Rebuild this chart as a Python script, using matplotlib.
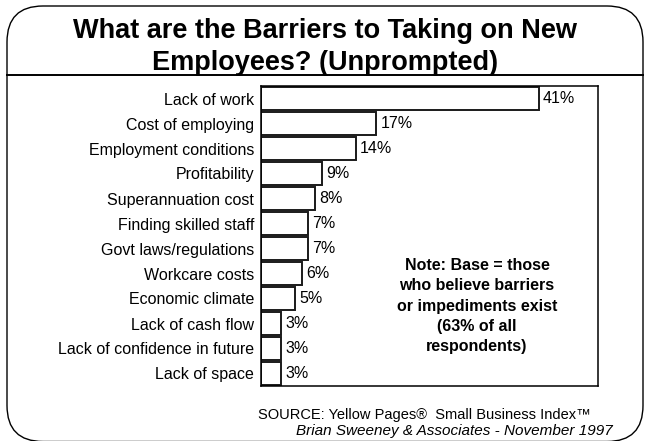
import matplotlib
matplotlib.use("Agg")
import matplotlib.pyplot as plt
from matplotlib.patches import FancyBboxPatch

plt.rcParams['font.family'] = ['Liberation Sans', 'DejaVu Sans']

# survey results, top to bottom
labels = ["Lack of work", "Cost of employing", "Employment conditions",
          "Profitability", "Superannuation cost", "Finding skilled staff",
          "Govt laws/regulations", "Workcare costs", "Economic climate",
          "Lack of cash flow", "Lack of confidence in future", "Lack of space"]
values = [41, 17, 14, 9, 8, 7, 7, 6, 5, 3, 3, 3]

W, H = 648, 441
fig = plt.figure(figsize=(W / 100, H / 100), dpi=100)
fig.set_facecolor('white')

def px(x, y):
    # pixel position (top-left origin) -> figure fraction
    return x / W, 1 - y / H

# background frame: rounded slide border + rule under the title
bg = fig.add_axes([0, 0, 1, 1])
bg.set_xlim(0, W)
bg.set_ylim(H, 0)
bg.axis('off')
frame = FancyBboxPatch((7, 6), 636, 435.5, boxstyle="round,pad=0,rounding_size=36",
                       fc='none', ec='black', lw=1.0)
bg.add_patch(frame)
bg.plot([7, 643], [75, 75], color='black', lw=1.4)

# title
fig.text(*px(325, 31), "What are the Barriers to Taking on New", ha='center', va='center',
         fontsize=19.5, fontweight='bold')
fig.text(*px(325, 63), "Employees? (Unprompted)", ha='center', va='center',
         fontsize=19.5, fontweight='bold')

# bar chart
left, top, right, bottom = 261, 86, 598, 386
ax = fig.add_axes([left / W, 1 - bottom / H, (right - left) / W, (bottom - top) / H])
ypos = list(range(len(values)))
ax.barh(ypos, values, height=0.93, color='white', edgecolor='#1a1a1a', linewidth=1.4)
ax.set_xlim(0, 49.7)
ax.set_ylim(len(values) - 0.5, -0.5)
ax.set_xticks([])
ax.set_yticks(ypos)
ax.set_yticklabels(labels, fontsize=11.5)
ax.tick_params(axis='y', length=0, pad=5)
for s in ax.spines.values():
    s.set_linewidth(1.1)
for y, v in zip(ypos, values):
    ax.text(v + 0.6, y, f"{v}%", va='center', ha='left', fontsize=11.5)

# note
fig.text(*px(477, 306), "Note: Base = those\nwho believe barriers\nor impediments exist\n(63% of all\nrespondents)",
         ha='center', va='center', fontsize=11.5, fontweight='bold', linespacing=1.45)

# source
fig.text(*px(258, 415), "SOURCE: Yellow Pages\u00ae  Small Business Index\u2122", ha='left', va='center',
         fontsize=10.5)
fig.text(*px(613, 431), "Brian Sweeney & Associates - November 1997", ha='right', va='center',
         fontsize=11, style='italic')

fig.savefig("out.png", dpi=100)
